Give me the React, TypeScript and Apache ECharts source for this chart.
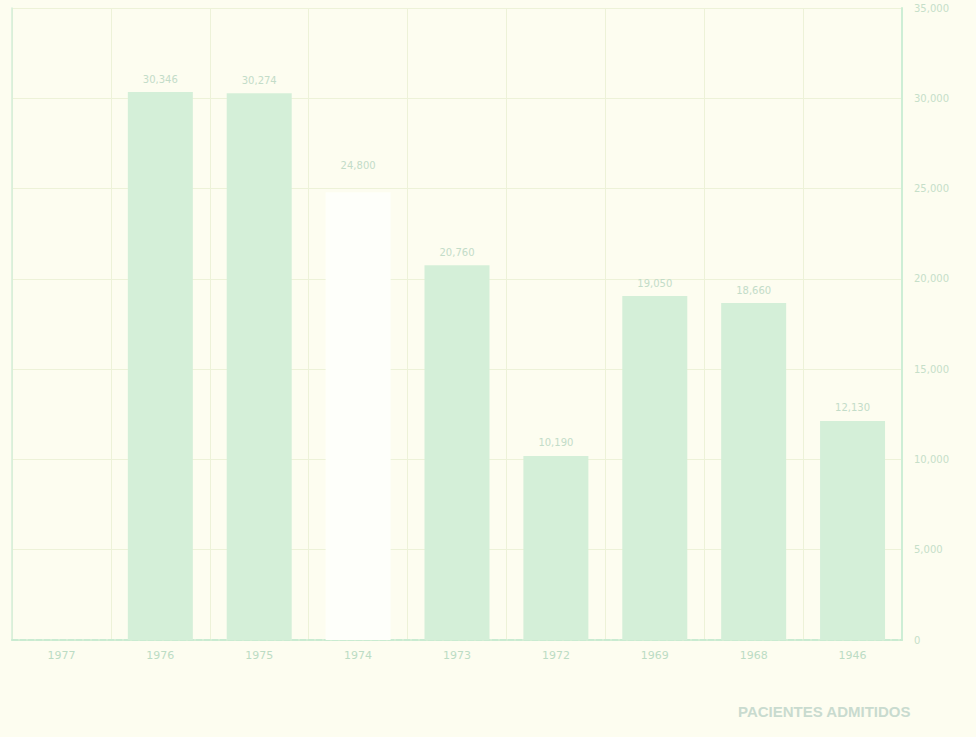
import React, { useEffect, useRef } from "react";
import * as echarts from "echarts";

const years = ["1977", "1976", "1975", "1974", "1973", "1972", "1969", "1968", "1946"];
const admitted: (number | null)[] = [null, 30346, 30274, 24800, 20760, 10190, 19050, 18660, 12130];
const blankedYears = ["1974"];
const yTicks = [0, 5000, 10000, 15000, 20000, 25000, 30000, 35000];
const title = "PACIENTES ADMITIDOS";

const fmt = (v: number) => v.toLocaleString("en-US");

export default function App() {
  const ref = useRef<HTMLDivElement>(null);
  useEffect(() => {
    if (!ref.current) return;
    const chart = echarts.init(ref.current, null, { renderer: "svg" });
    chart.setOption({
      animation: false,
      backgroundColor: "#fdfdf0",
      grid: { left: 12, right: 74, top: 8, bottom: 97 },
      xAxis: {
        type: "category",
        data: years,
        boundaryGap: true,
        axisLine: { show: true, lineStyle: { color: "#c9ebd1", width: 2, type: [6, 2] } },
        axisTick: { show: false },
        axisLabel: { color: "#bcdcc4", fontSize: 11, margin: 10, fontFamily: "DejaVu Sans" },
        splitLine: { show: true, lineStyle: { color: "#edf2d8", width: 1 } },
      },
      yAxis: [
        {
          type: "value",
          position: "right",
          min: yTicks[0],
          max: yTicks[yTicks.length - 1],
          interval: 5000,
          axisLine: { show: true, lineStyle: { color: "#cdeed5", width: 2 } },
          axisTick: { show: false },
          axisLabel: {
            color: "#c6dfc9",
            fontSize: 10,
            margin: 12,
            fontFamily: "DejaVu Sans",
            formatter: (v: number) => fmt(v),
          },
          splitLine: { show: true, lineStyle: { color: "#edf2d8", width: 1 } },
        },
        {
          type: "value",
          position: "left",
          min: yTicks[0],
          max: yTicks[yTicks.length - 1],
          interval: 5000,
          axisLine: { show: true, lineStyle: { color: "#d3eed9", width: 1.5 } },
          axisTick: { show: false },
          axisLabel: { show: false },
          splitLine: { show: false },
        },
      ],
      series: [
        {
          type: "bar",
          barWidth: 65,
          yAxisIndex: 0,
          data: admitted.map((v, i) => ({
            value: v,
            itemStyle: {
              color: blankedYears.includes(years[i]) ? "#fefffa" : "#d4efd8",
            },
            label: {
              distance: blankedYears.includes(years[i]) ? 22 : 8,
            },
          })),
          label: {
            show: true,
            position: "top",
            color: "#c3dcc8",
            fontSize: 10,
            fontFamily: "DejaVu Sans",
            formatter: (p: any) => (p.value == null ? "" : fmt(p.value)),
          },
        },
      ],
      graphic: [
        {
          type: "text",
          left: 738,
          top: 704,
          style: {
            text: title,
            fill: "#c9dbcf",
            fontSize: 15,
            fontWeight: "bold",
            fontFamily: "Liberation Sans",
          },
        },
      ],
    });
    return () => chart.dispose();
  }, []);
  return (
    <div
      ref={ref}
      style={{ position: "fixed", left: 0, top: 0, width: 976, height: 737 }}
    />
  );
}
